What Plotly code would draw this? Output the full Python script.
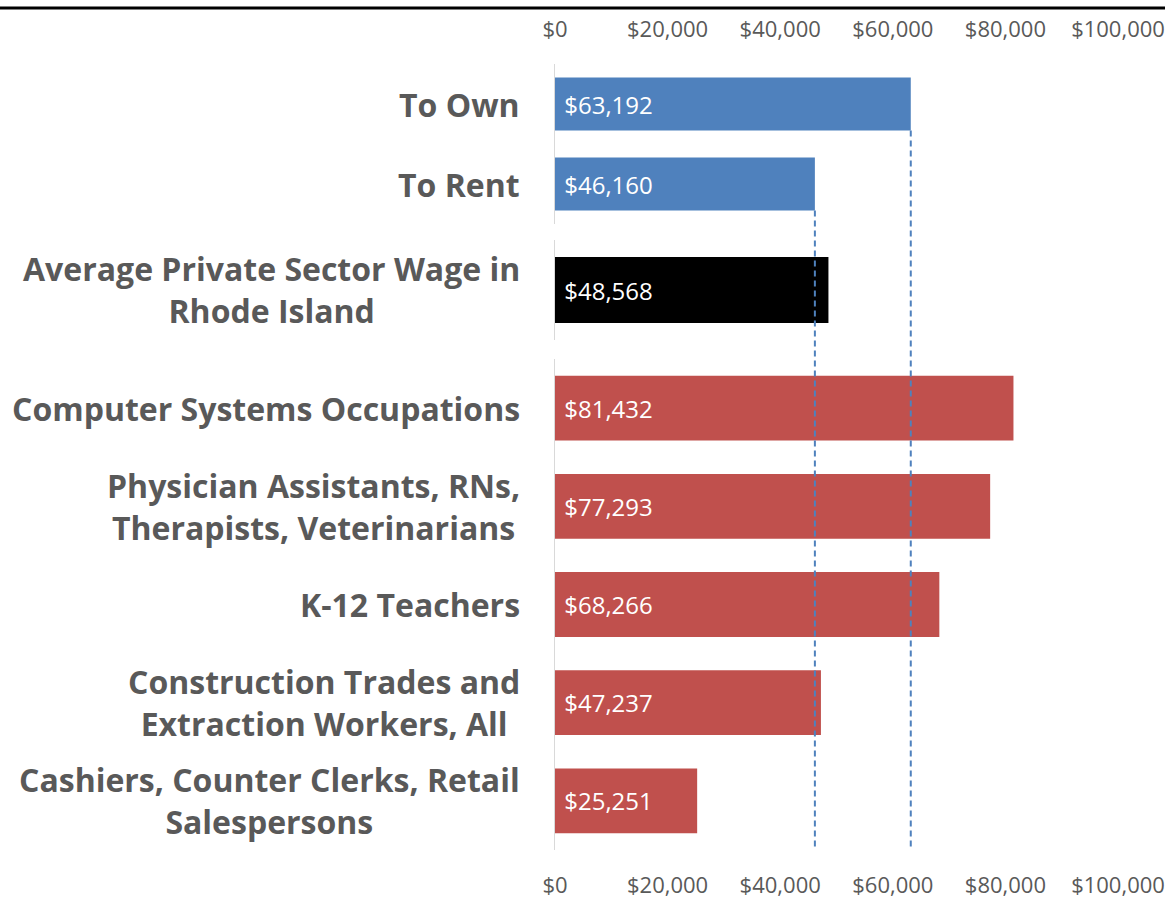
import plotly.graph_objects as go

# ---- data ----
housing_labels = ["To Own", "To Rent"]
housing_values = [63192, 46160]
avg_label = ["Average Private Sector Wage in<br>Rhode Island"]
avg_value = [48568]
occ_labels = [
    "Computer Systems Occupations",
    "Physician Assistants, RNs,<br>Therapists, Veterinarians",
    "K-12 Teachers",
    "Construction Trades and<br>Extraction Workers, All",
    "Cashiers, Counter Clerks, Retail<br>Salespersons",
]
occ_values = [81432, 77293, 68266, 47237, 25251]
tick_vals = [0, 20000, 40000, 60000, 80000, 100000]
tick_text = ["$0", "$20,000", "$40,000", "$60,000", "$80,000", "$100,000"]

W, H = 1174, 899
BLUE, RED = "#4F81BD", "#C0504D"
GRAY = "#595959"
FONT = "Open Sans"


def py(px):
    return 1 - px / H


def px_x(px):
    return px / W


dom_top = [py(224), py(64)]
dom_mid = [py(340), py(240)]
dom_bot = [py(850), py(359)]
x_dom = [px_x(555), px_x(1118)]


def fmt(v):
    return " ${:,}".format(v)


fig = go.Figure()
common = dict(orientation="h", textposition="inside", insidetextanchor="start",
              textfont=dict(color="white", size=24, family=FONT),
              hoverinfo="skip", showlegend=False)
fig.add_trace(go.Bar(y=housing_labels, x=housing_values, text=[fmt(v) for v in housing_values],
                     marker=dict(color=BLUE, line=dict(width=0)), xaxis="x", yaxis="y", **common))
fig.add_trace(go.Bar(y=avg_label, x=avg_value, text=[fmt(v) for v in avg_value],
                     marker=dict(color="black", line=dict(width=0)), xaxis="x", yaxis="y2", **common))
fig.add_trace(go.Bar(y=occ_labels, x=occ_values, text=[fmt(v) for v in occ_values],
                     marker=dict(color=RED, line=dict(width=0)), xaxis="x2", yaxis="y3", **common))

yax = dict(showticklabels=False, showgrid=False, zeroline=False, ticks="", automargin=False,
           autorange="reversed", showline=True, linecolor="#D9D9D9", linewidth=1,
           type="category")
xtick = dict(tickvals=tick_vals, ticktext=tick_text, range=[0, 100000], showgrid=False,
             zeroline=False, showline=False, ticks="", domain=x_dom, automargin=False,
             tickfont=dict(size=22, color=GRAY, family=FONT))

fig.update_layout(
    width=W, height=H, margin=dict(l=0, r=0, t=0, b=0, autoexpand=False), autosize=False,
    plot_bgcolor="white", paper_bgcolor="white", bargap=0.34,
    xaxis=dict(anchor="free", position=py(41), side="top", **xtick),
    xaxis2=dict(anchor="free", position=py(870), side="bottom", matches="x", **xtick),
    yaxis=dict(domain=dom_top, anchor="x", **yax),
    yaxis2=dict(domain=dom_mid, anchor="x", **yax),
    yaxis3=dict(domain=dom_bot, anchor="x2", **yax),
)

pairs = [(l, "y") for l in housing_labels] + [(l, "y2") for l in avg_label] + [(l, "y3") for l in occ_labels]
for lab, yname in pairs:
    fig.add_annotation(x=px_x(522), xref="paper", y=lab, yref=yname, text="<b>" + lab.replace("<br>", "</b><br><b>") + "</b>",
                       showarrow=False, xanchor="right", yanchor="middle", align="center",
                       font=dict(size=32, color=GRAY, family=FONT))

row_h = (224 - 64) / len(housing_labels)
for i, v in enumerate(housing_values):
    bar_bottom_px = 64 + row_h * (i + 0.5) + row_h * (1 - 0.34) / 2
    fig.add_shape(type="line", xref="x", yref="paper", x0=v, x1=v,
                  y0=py(bar_bottom_px), y1=py(848),
                  line=dict(color=BLUE, width=2, dash="6px,4px"))

fig.add_shape(type="line", xref="paper", yref="paper", x0=0, x1=px_x(1165), y0=py(8), y1=py(8),
              line=dict(color="black", width=3))

post = ("document.body.style.margin='0';document.body.style.overflow='hidden';"
        "var gd=document.getElementById('{plot_id}');"
        "Plotly.relayout(gd,{width:%d,height:%d});" % (W, H))
fig.write_html("out.html", config={"responsive": False, "displayModeBar": False}, post_script=post)
